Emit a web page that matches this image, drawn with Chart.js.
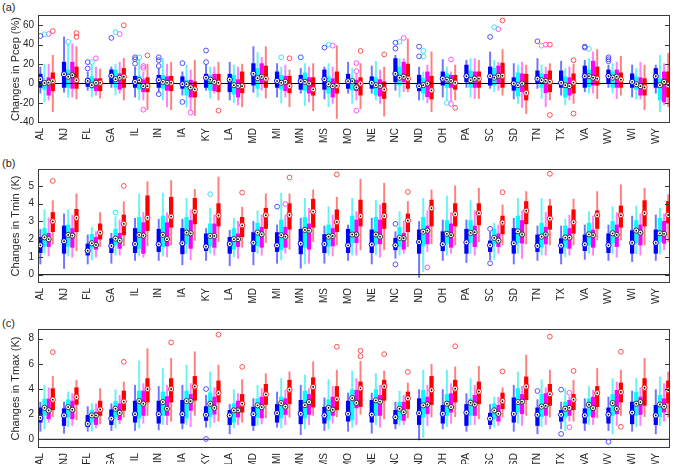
<!DOCTYPE html>
<html>
<head>
<meta charset="utf-8">
<script src="https://cdn.jsdelivr.net/npm/chart.js@4.4.1/dist/chart.umd.min.js"></script>
<style>
  body { margin: 0; background: #fff; }
  #wrap { position: relative; width: 675px; height: 464px; overflow: hidden; }
  canvas { position: absolute; left: 0; }
  .tag { position: absolute; left: 2px; font: 11px 'Liberation Sans', Arial, sans-serif; color: #262626; }
</style>
</head>
<body>
<div id="wrap">
  <div class="tag" style="top:1px">(a)</div>
  <div class="tag" style="top:157px">(b)</div>
  <div class="tag" style="top:317px">(c)</div>
  <canvas id="pcepChart" width="675" height="150" style="top:0"></canvas>
  <canvas id="tminChart" width="675" height="160" style="top:150px"></canvas>
  <canvas id="tmaxChart" width="675" height="154" style="top:310px"></canvas>
</div>
<script>
// States along the x axis
const states = ['AL','NJ','FL','GA','IL','IN','IA','KY','LA','MD','MI','MN','MS','MO',
  'NE','NC','ND','OH','PA','SC','SD','TN','TX','VA','WV','WI','WY'];

// each box: [whisker low, q1, median, q3, whisker high]
// (a) precipitation change (%)
const pcepBlue = [[-10,-4,4.5,9.6,17],[-9,-4,9.6,22,48],[-7,-3,2.7,5,12],[-4,0.7,8,14,17],[-14,-4,1.7,7.5,17],
  [-9,-4,3.4,8.5,16],[-12,-5,-0.7,7,12],[-7,-4,6,9.6,19],[-17,-8.5,4,9.6,22],[-9,-1.7,10,20.5,38],
  [-14,-4,2.7,12,20.5],[-10,-6,2.4,8.5,15.5],[-16,-6,4.5,14,17],[-10,-5,2.4,9.6,22],[-10,-5,0.7,7,18],
  [-7,1.7,10,25.7,29],[-17,-7.5,-2.7,8.5,17],[-14,-1.7,5,12,24.7],[-4,1.7,7.5,19,24],[-5,-1.7,7.5,17,32.5],
  [-16,-7,0,6,20.5],[-5,0,5,13,25.7],[-12,-4,0.7,13,23],[-8.5,-4,7.5,18,24],[-4,0.7,7.5,14,19],
  [-14,-4,1.7,10,19],[-10,-4,7.5,15.5,19]];
const pcepCyan = [[-19,-6,0.5,1.7,20],[-14,-4,7,14,41],[-14,-5,-1.7,7,19],[-12,-4,4.5,14,20],[-17,-6,3.4,7.5,24],
  [-17,-5,1.7,8.5,26],[-24,-12,-0.7,3.4,19],[-15,-7,4,8.5,17],[-20,-11,-1.7,8.5,19],[-14,-5,5.5,15.5,32],
  [-20,-6,0.7,8.5,17],[-23,-7.5,1.7,11,20.5],[-24,-10,-0.7,7,20.5],[-20.5,-7,2.4,5,15.5],[-17,-12,-1.7,6,23],
  [-14,-1.7,6,17,25.7],[-17,-10,-1.7,5,12],[-17,-4,4,10,17],[-14,-4,3.4,13,25.7],[-8.5,-1.7,6,15.5,24],
  [-20.5,-13,-1.7,11,19],[-15.5,-4,3.4,10,19],[-22,-14,-1.7,7,15.5],[-10,-3.4,7.5,14,25.7],[-10,-4,6,12,20.5],
  [-16,-6,-0.7,7,15.5],[-29,-17,-1.7,5,29]];
const pcepMagenta = [[-17,-12,1,6,20],[-14,-5,8.5,22,41],[-12,-7.5,0.7,5,17],[-10,-6,6,10,22],[-17,-8.5,-2.7,4,12],
  [-24,-7,0.7,7,20],[-27,-14,-4,3.4,14],[-10,-7.5,1.7,9.6,17],[-22,-14,-2.4,4,17],[-7,0,7,20.5,27],
  [-14,-7.5,1.7,7.5,19],[-19,-10,0,6,17],[-20.5,-14,-2.7,5,17],[-17,-7.5,-4,3.4,10],[-20.5,-13,-2.4,4,14],
  [-8.5,1.7,7,22,25.7],[-20,-13.7,0,12,19],[-18,-4,2.7,8.5,12],[-15.5,-4,5,12,25.7],[-7,0,8,18,22],
  [-24.7,-8.5,0,10,22],[-24,-9.6,2.7,9.6,17],[-17,-12,-2.7,6,17],[-10,-1.7,6,23,32.5],[-15.5,-4,7,14,22],
  [-16,-12,-2.7,6,22],[-22,-19,1.7,12,20.5]];
const pcepRed = [[-29,-7.5,2.4,11,29],[-16,-5,3.4,17,38],[-15,-7.5,0.7,5,15],[-17,-4,7,15.5,26],[-27,-8.5,-2.7,6,20],
  [-27,-7.5,0.7,7.5,22],[-33,-14,-6,1.7,24],[-17,-8.5,0.7,9.6,22],[-24,-9.6,-2.7,12,20],[-15,-4,5,18,38],
  [-24,-9.6,-2.7,7.5,14],[-28,-12,-6,6,20.5],[-36,-10,-2.4,12,39],[-26,-12,0,6,20.5],[-33.6,-15.5,-6,1.7,17],
  [-8.5,-5,5,20,46],[-29,-16,-7,7.5,32.5],[-17,-6,0.7,8.5,19],[-15.5,-4,5,12,24],[-12,-4,8,21,35],
  [-31,-17,-9.6,9.6,19],[-17,-8.5,1.7,13,20.5],[-20.5,-10,1,10,20],[-15.5,-1.7,5,17,35],[-12,-4,4,11,28],
  [-27,-12,-4,5,19],[-24,-14,-1.7,12,31]];
// outliers: [state index, value]
const pcepOutliers = [
  [[0,49],[2,22],[2,15.5],[3,47],[4,27],[4,25],[4,20.5],[5,27],[5,24],[5,18],[5,-11],[6,21],[6,-19],[7,34],[7,22],
   [11,27],[12,37],[15,42],[15,36],[16,38],[16,28],[19,48],[21,43.5],[23,38],[23,37],[24,27],[24,25],[24,23]],
  [[0,50.7],[1,43],[2,22],[3,53],[4,27],[10,27],[12,40],[15,43],[16,33.6],[16,28],[17,-20],[19,58],[21,39],[23,35.6]],
  [[0,51],[2,26],[3,51],[4,18],[4,16],[4,-27],[6,-30],[12,39],[13,21],[13,12.7],[13,-28],[15,47],[17,24.7],[17,-21],
   [19,56],[21,40]],
  [[0,54],[1,52],[1,48],[3,60],[4,29],[7,-28],[10,26],[13,33.6],[14,30],[17,-25],[19,65],[21,40],[21,-32.5],[22,24],[22,-31]]
];

// (b) minimum temperature change (K)
const tminBlue = [[0.6,1.24,1.65,2.1,2.55],[0.35,1.2,1.88,2.74,3.42],[0.6,1.1,1.35,1.73,2.24],[0.64,1.24,1.62,2.03,2.33],
  [0.8,1.24,1.73,2.6,3.18],[0.8,1.3,1.71,2.56,3.12],[0.55,1.17,1.77,2.6,3.12],[0.8,1.35,1.58,2.3,2.6],[0.5,1.2,1.73,2.1,2.5],
  [0.55,1.3,1.8,2.37,3.0],[0.64,1.3,1.65,2.37,2.8],[0.36,1.17,1.75,2.56,3.18],[0.64,1.24,1.73,2.26,2.74],[0.8,1.24,1.65,2.56,2.8],
  [0.6,1.24,1.7,2.52,3.18],[0.92,1.4,1.65,2.05,2.42],[-0.15,1.2,1.84,2.52,3.0],[0.8,1.35,1.71,2.42,3.08],[0.68,1.2,1.82,2.56,3.08],
  [0.83,1.3,1.65,1.9,2.4],[0.6,1.2,1.77,2.6,3.18],[0.8,1.3,1.62,2.24,2.74],[0.6,1.2,1.64,2.03,2.74],[0.86,1.35,1.71,2.24,2.8],
  [0.8,1.24,1.65,2.3,2.8],[0.73,1.2,1.8,2.48,3.3],[0.8,1.2,1.8,2.52,3.36]];
const tminCyan = [[1.2,1.6,2.1,2.6,3.65],[1.05,1.6,2.24,2.8,3.65],[0.83,1.48,1.77,2.27,2.67],[1.1,1.67,2.03,2.56,3.27],
  [1.05,1.48,2.24,3.23,4.55],[1.05,1.58,2.24,3.3,4.6],[1.2,1.73,2.37,3.23,4.3],[1.2,1.62,2.18,2.86,3.75],[1.0,1.43,2.0,2.6,3.18],
  [1.2,1.62,2.37,2.9,3.6],[0.83,1.4,2.22,3.08,4.58],[0.6,1.54,2.52,3.23,4.3],[1.1,1.58,2.14,2.8,3.83],[1.1,1.8,2.26,3.3,4.3],
  [1.1,1.73,2.26,3.23,4.2],[1.1,1.58,2.07,2.67,3.55],[0.17,1.62,2.42,3.23,4.3],[1.1,1.77,2.3,3.05,4.43],[1.2,1.8,2.35,3.05,4.17],
  [0.86,1.73,2.07,2.56,2.9],[1.2,1.8,2.44,3.3,4.3],[1.1,1.54,2.14,2.9,4.3],[1.0,1.54,2.09,2.74,3.12],[1.2,1.67,2.27,2.9,3.55],
  [1.2,1.77,2.33,3.0,3.83],[1.17,1.8,2.48,3.05,3.87],[1.17,1.86,2.33,3.18,3.74]];
const tminMagenta = [[1.05,1.58,2.0,2.33,3.2],[0.98,1.54,2.2,2.6,3.36],[0.98,1.43,1.67,2.1,2.42],[1.1,1.48,1.92,2.33,3.08],
  [0.98,1.2,2.2,2.93,3.5],[1.0,1.62,2.0,2.93,3.5],[0.83,1.48,2.33,3.05,3.65],[1.1,1.54,2.18,2.86,3.36],[0.92,1.58,2.0,2.3,3.0],
  [1.1,1.54,2.27,2.67,3.36],[1.2,1.54,2.14,2.67,3.36],[0.64,1.43,2.48,2.86,3.74],[1.05,1.62,2.18,2.6,3.36],[1.1,1.8,2.26,3.08,3.55],
  [0.98,1.73,2.14,3.08,3.93],[1.2,1.43,2.05,2.33,3.0],[1.3,1.73,2.48,2.74,3.6],[1.2,1.54,2.22,2.86,3.5],[1.1,1.58,2.39,2.74,3.6],
  [1.2,1.58,1.92,2.3,2.8],[0.92,1.77,2.26,3.05,3.6],[1.1,1.73,2.26,2.67,3.5],[1.1,1.48,2.09,2.6,3.36],[1.1,1.54,2.22,2.52,3.3],
  [0.98,1.58,2.24,2.8,3.5],[1.1,1.67,2.37,2.8,3.42],[1.4,1.77,2.3,3.0,3.42]];
const tminRed = [[1.73,2.42,3.0,3.5,4.17],[1.35,2.42,3.2,3.68,4.55],[1.58,2.0,2.37,2.86,3.5],[1.62,2.24,2.86,3.36,4.1],
  [1.62,2.48,3.2,4.44,5.24],[1.67,2.67,3.27,4.36,5.3],[1.92,2.86,3.55,4.3,4.8],[1.86,2.74,3.33,4.0,5.5],[1.54,2.14,2.78,3.23,3.8],
  [1.8,2.6,3.35,3.74,4.55],[1.43,2.56,3.36,4.0,4.55],[1.86,2.67,3.55,4.25,4.77],[1.67,2.42,2.97,3.65,4.36],[1.4,2.74,3.3,4.2,5.38],
  [1.4,2.6,3.3,4.02,5.15],[1.58,2.42,3.05,3.42,4.12],[1.73,2.74,3.74,4.2,4.77],[1.67,2.74,3.4,4.0,5.0],[1.86,2.8,3.46,4.0,4.87],
  [1.67,2.3,2.93,3.3,3.93],[1.73,2.86,3.6,4.12,4.68],[1.67,2.56,3.16,3.87,4.25],[1.67,2.33,2.95,3.65,4.25],[1.95,2.6,3.35,3.6,4.68],
  [1.95,2.67,3.35,3.87,5.06],[1.67,2.74,3.46,4.17,4.87],[1.86,2.9,3.36,4.12,4.5]];
const tminOutliers = [
  [[10,3.83],[15,2.86],[15,0.58],[19,2.58],[19,0.64]],
  [[3,3.5],[7,4.53]],
  [[10,3.98],[16,0.41]],
  [[0,5.28],[3,5.0],[8,4.62],[10,5.47],[12,5.64],[15,4.66],[19,4.64],[21,5.68]]
];

// (c) maximum temperature change (K)
const tmaxBlue = [[0.64,1.36,1.7,2.5,2.96],[0.48,1.1,1.9,2.43,2.96],[0.64,1.0,1.23,1.9,2.6],[0.7,1.17,1.65,2.35,2.83],
  [0.7,1.36,2.0,3.04,4.3],[0.75,1.28,2.0,3.04,4.2],[0.83,1.28,2.0,3.1,4.3],[0.96,1.5,1.95,2.6,3.5],[0.43,1.17,1.9,2.3,2.77],
  [0.7,1.1,2.0,2.56,3.23],[0.96,1.36,2.08,2.77,3.76],[0.37,1.23,2.03,3.1,4.3],[0.7,1.28,1.9,2.56,3.3],[0.64,1.44,2.03,3.04,3.68],
  [0.48,1.36,1.97,3.1,3.68],[0.83,1.23,1.76,2.3,2.96],[-0.05,1.17,2.08,3.23,3.95],[0.83,1.28,2.03,2.7,3.95],[0.64,1.1,2.13,2.77,3.63],
  [0.83,1.17,1.65,2.08,2.77],[0.64,1.36,2.03,3.3,4.3],[0.43,1.1,1.95,2.5,3.15],[0.83,1.44,1.95,2.3,2.96],[0.7,1.28,1.9,2.43,3.23],
  [0.7,1.28,1.97,2.5,3.36],[0.64,1.23,2.13,2.96,3.84],[0.43,1.17,1.9,2.7,3.95]];
const tmaxCyan = [[0.83,1.9,2.5,3.2,4.3],[1.0,1.76,2.56,3.15,3.76],[0.64,1.36,1.9,2.3,2.83],[0.9,1.76,2.43,3.04,3.95],
  [0.9,1.7,3.04,3.84,6.24],[1.17,1.9,2.96,3.76,5.63],[1.17,1.7,3.04,3.84,5.9],[0.96,1.8,2.83,3.7,5.36],[0.9,1.36,2.3,2.83,3.95],
  [1.1,1.76,2.7,3.23,4.3],[0.9,1.7,2.88,3.36,4.83],[0.83,1.7,2.72,3.84,5.1],[0.83,1.55,2.5,3.15,4.75],[0.96,1.55,3.28,3.95,5.44],
  [1.17,1.9,3.1,3.95,5.23],[1.1,1.55,2.43,2.96,3.84],[0.16,1.76,2.7,3.9,5.5],[1.0,1.9,2.83,3.57,5.5],[1.17,1.9,2.9,3.23,4.83],
  [0.96,1.63,2.3,2.83,3.36],[1.28,2.16,2.96,4.03,5.36],[1.0,1.8,2.6,3.57,4.75],[0.7,1.76,2.43,2.96,4.03],[1.17,1.9,2.75,3.23,4.2],
  [0.43,1.9,2.88,3.57,4.83],[1.0,1.9,2.83,3.76,4.83],[1.1,1.8,2.77,3.5,4.96]];
const tmaxMagenta = [[1.36,1.63,2.3,3.2,4.1],[1.1,1.63,2.35,3.04,3.63],[0.9,1.17,1.9,2.16,2.83],[1.23,1.55,2.1,2.83,3.5],
  [1.28,1.9,2.83,3.84,4.43],[1.17,1.9,2.43,3.4,4.3],[1.0,2.3,3.04,3.57,4.43],[1.36,2.0,2.5,3.36,4.1],[1.17,1.76,2.3,3.04,3.63],
  [1.23,1.7,2.56,3.36,4.03],[1.17,1.97,2.6,3.23,3.9],[1.17,1.97,2.96,3.57,4.03],[1.28,1.9,2.35,3.36,4.2],[1.17,2.5,2.9,3.9,4.83],
  [0.96,1.9,3.0,3.5,4.3],[1.17,1.5,2.16,2.96,3.5],[1.1,2.03,2.77,3.36,4.3],[1.28,2.16,2.56,3.63,4.43],[1.17,1.9,2.77,3.5,4.3],
  [1.1,1.44,2.03,2.7,3.36],[1.1,2.03,3.0,3.57,4.2],[1.17,1.9,2.67,3.63,4.1],[1.44,1.9,2.5,3.1,3.4],[1.17,1.76,2.48,3.36,3.9],
  [1.1,2.03,2.43,3.9,4.56],[1.1,1.97,2.96,3.36,4.1],[1.44,2.16,2.6,3.23,4.43]];
const tmaxRed = [[1.8,2.35,3.15,4.03,5.0],[1.55,2.77,3.36,4.1,4.7],[1.23,1.9,2.37,3.04,4.03],[1.76,2.3,3.0,3.84,4.56],
  [1.9,2.96,4.0,4.83,7.2],[1.44,2.96,4.0,4.83,6.43],[1.9,3.1,4.2,5.0,6.96],[1.44,2.96,3.68,4.64,5.9],[1.36,2.16,2.83,3.57,4.75],
  [1.7,2.77,3.57,4.37,5.23],[1.76,2.83,3.95,4.7,5.36],[1.9,2.56,4.16,4.9,6.16],[1.8,2.35,3.2,4.2,5.5],[2.0,2.6,4.05,4.56,6.2],
  [1.63,3.1,4.2,4.7,5.44],[1.7,2.43,3.25,3.76,4.48],[1.76,2.77,3.9,5.0,5.97],[1.8,2.96,4.03,4.7,5.76],[1.63,2.83,3.8,4.56,5.8],
  [1.76,2.43,3.04,3.68,4.1],[1.9,3.15,4.2,4.96,6.7],[1.76,2.7,3.6,4.37,5.5],[1.44,2.35,3.15,3.57,4.7],[1.7,2.6,3.68,4.2,5.63],
  [1.9,2.96,3.76,4.48,5.5],[1.8,2.7,4.1,4.83,6.43],[1.76,2.88,3.9,4.64,5.36]];
const tmaxOutliers = [
  [[7,4.0],[7,0.03],[21,3.84],[22,3.95],[22,0.43],[24,-0.2]],
  [],
  [[22,3.7],[22,0.96]],
  [[0,6.93],[3,6.16],[5,7.7],[7,8.32],[8,5.76],[12,7.36],[13,7.04],[13,6.6],[14,6.77],[15,5.36],[17,7.4],
   [19,5.4],[21,8.16],[22,5.44],[24,6.96],[24,1.0]]
];

// series look: box, whisker, median ring, outlier
const boxColors = ['#0000ff', '#00ffff', '#ff00ff', '#ff0000'];
const whiskerColors = ['rgba(0,0,255,0.55)', 'rgba(0,235,235,0.6)', 'rgba(255,0,255,0.5)', 'rgba(255,0,0,0.5)'];
const ringColors = ['#0000ff', '#2b3a4a', '#3a2a3a', '#ff1a1a'];
const outlierColors = ['#5050ff', '#40dff0', '#ff50ff', '#ff5050'];
const offsets = [0, 0.175, 0.35, 0.525];
const X_MIN = 0.9, X_MAX = 27.6;

Chart.defaults.font.family = "'Liberation Sans', Arial, sans-serif";
Chart.defaults.color = '#262626';

// frame with inward ticks, like a matlab axes box
const framePlugin = {
  id: 'frame',
  afterDraw(chart) {
    const {ctx, chartArea: a, scales: {y}} = chart;
    ctx.save();
    ctx.strokeStyle = '#3a3a3a';
    ctx.lineWidth = 1;
    ctx.strokeRect(Math.round(a.left) + 0.5, Math.round(a.top) + 0.5,
      Math.round(a.width) - 1, Math.round(a.height) - 1);
    ctx.beginPath();
    y.ticks.forEach(t => {
      const py = Math.round(y.getPixelForValue(t.value)) + 0.5;
      ctx.moveTo(a.left, py); ctx.lineTo(a.left + 5, py);
      ctx.moveTo(a.right - 5, py); ctx.lineTo(a.right, py);
    });
    ctx.stroke();
    ctx.restore();
  }
};

function makePanel(id, boxes, outliers, yMin, yMax, yTicks, title, topPad, axisH) {
  const datasets = [];
  boxes.forEach((series, k) => {
    const xs = series.map((b, i) => i + 1 + offsets[k]);
    datasets.push({
      type: 'bar', grouped: false, barThickness: 1.3, order: 5,
      backgroundColor: whiskerColors[k],
      data: series.map((b, i) => ({x: xs[i], y: [b[0], b[4]]}))
    });
    datasets.push({
      type: 'bar', grouped: false, barThickness: 3.6, order: 4,
      backgroundColor: boxColors[k],
      data: series.map((b, i) => ({x: xs[i], y: [b[1], b[3]]}))
    });
    datasets.push({
      type: 'scatter', order: 1, pointRadius: 2.6, borderWidth: 1,
      backgroundColor: '#ffffff', borderColor: ringColors[k],
      data: series.map((b, i) => ({x: xs[i], y: b[2]}))
    });
    datasets.push({
      type: 'scatter', order: 0, pointRadius: 0.9, borderWidth: 0,
      backgroundColor: '#000000',
      data: series.map((b, i) => ({x: xs[i], y: b[2]}))
    });
    datasets.push({
      type: 'scatter', order: 2, pointRadius: 2.4, borderWidth: 1,
      backgroundColor: 'rgba(0,0,0,0)', borderColor: outlierColors[k],
      data: outliers[k].map(o => ({x: o[0] + 1 + offsets[k], y: o[1]}))
    });
  });
  // zero reference line
  datasets.push({
    type: 'line', order: 3, borderColor: '#000000', borderWidth: 1, pointRadius: 0,
    data: [{x: X_MIN, y: 0}, {x: X_MAX, y: 0}]
  });

  return new Chart(document.getElementById(id), {
    type: 'bar',
    data: {datasets: datasets},
    options: {
      responsive: false,
      animation: false,
      devicePixelRatio: 1,
      layout: {padding: {top: topPad, right: 4, left: 0, bottom: 0}},
      plugins: {legend: {display: false}, tooltip: {enabled: false}},
      scales: {
        x: {
          type: 'linear', min: X_MIN, max: X_MAX, offset: false,
          grid: {display: false, offset: false, drawTicks: false}, border: {display: false},
          afterBuildTicks: s => { s.ticks = states.map((st, i) => ({value: i + 1})); },
          afterFit: s => { s.height = axisH; },
          ticks: {
            autoSkip: false, minRotation: 90, maxRotation: 90, padding: 5,
            font: {size: 10},
            callback: v => states[v - 1]
          }
        },
        y: {
          min: yMin, max: yMax, stacked: false,
          grid: {display: false, drawTicks: false}, border: {display: false},
          afterBuildTicks: s => { s.ticks = yTicks.map(v => ({value: v})); },
          afterFit: s => { s.width = 38; },
          ticks: {padding: 4, font: {size: 10}},
          title: {display: true, text: title, font: {size: 11}, padding: {top: 9, bottom: 0}}
        }
      }
    },
    plugins: [framePlugin]
  });
}

makePanel('pcepChart', [pcepBlue, pcepCyan, pcepMagenta, pcepRed], pcepOutliers,
  -40.7, 70.6, [-40, -20, 0, 20, 40, 60], 'Changes in Pcep (%)', 15, 27);
makePanel('tminChart', [tminBlue, tminCyan, tminMagenta, tminRed], tminOutliers,
  -0.47, 5.95, [0, 1, 2, 3, 4, 5], 'Changes in Tmin (K)', 19, 27);
makePanel('tmaxChart', [tmaxBlue, tmaxCyan, tmaxMagenta, tmaxRed], tmaxOutliers,
  -0.69, 8.77, [0, 2, 4, 6, 8], 'Changes in Tmax (K)', 19, 16);
</script>
</body>
</html>
